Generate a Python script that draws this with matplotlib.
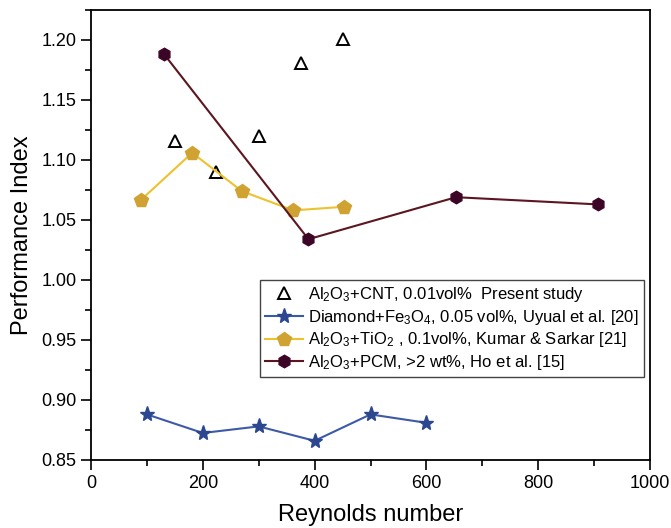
import matplotlib
matplotlib.use('Agg')
import matplotlib.pyplot as plt
from matplotlib.ticker import MultipleLocator

plt.rcParams['font.family'] = ['Liberation Sans', 'DejaVu Sans']
plt.rcParams['mathtext.fontset'] = 'custom'
plt.rcParams['mathtext.rm'] = 'Liberation Sans'
plt.rcParams['mathtext.default'] = 'regular'

# Al2O3+CNT (present study)
re_cnt = [150, 224, 300, 376, 450]
pi_cnt = [1.116, 1.090, 1.120, 1.181, 1.201]

# Diamond+Fe3O4
re_dia = [100, 200, 300, 400, 500, 600]
pi_dia = [0.888, 0.8725, 0.878, 0.866, 0.888, 0.881]

# Al2O3+TiO2
re_tio = [90, 181, 270, 362, 452]
pi_tio = [1.067, 1.106, 1.074, 1.058, 1.061]

# Al2O3+PCM
re_pcm = [131, 389, 653, 907]
pi_pcm = [1.188, 1.034, 1.069, 1.063]

fig = plt.figure(figsize=(6.71, 5.28), dpi=100)
ax = fig.add_axes([91/671, 1-460/528, (650-91)/671, 450/528])

ax.plot(re_cnt, pi_cnt, linestyle='none', marker='^', markersize=9,
        markerfacecolor='white', markeredgecolor='black', markeredgewidth=1.4,
        label='Al$_2$O$_3$+CNT, 0.01vol%  Present study')
ax.plot(re_dia, pi_dia, color='#3c5aa6', lw=1.5, marker='*', markersize=11,
        markerfacecolor='#2c4690', markeredgecolor='#2c4690',
        label='Diamond+Fe$_3$O$_4$, 0.05 vol%, Uyual et al. [20]')
ax.plot(re_tio, pi_tio, color='#eec22e', lw=1.5, marker='p', markersize=10,
        markerfacecolor='#d0a232', markeredgecolor='#d0a232',
        label='Al$_2$O$_3$+TiO$_2$ , 0.1vol%, Kumar & Sarkar [21]')
ax.plot(re_pcm, pi_pcm, color='#5c1620', lw=1.5, marker='h', markersize=9,
        markerfacecolor='#3c0526', markeredgecolor='#3c0526',
        label='Al$_2$O$_3$+PCM, >2 wt%, Ho et al. [15]')

ax.set_xlim(0, 1000)
ax.set_ylim(0.85, 1.225)
ax.xaxis.set_major_locator(MultipleLocator(200))
ax.xaxis.set_minor_locator(MultipleLocator(100))
ax.yaxis.set_major_locator(MultipleLocator(0.05))
ax.yaxis.set_minor_locator(MultipleLocator(0.025))
ax.yaxis.set_major_formatter(matplotlib.ticker.FormatStrFormatter('%.2f'))
ax.tick_params(which='major', direction='out', length=7, width=1.2, labelsize=13)
ax.tick_params(which='minor', direction='out', length=4, width=1.2)
for s in ax.spines.values():
    s.set_linewidth(1.3)

ax.set_xlabel('Reynolds number', fontsize=17, labelpad=9)
ax.set_ylabel('Performance Index', fontsize=17, labelpad=6)

leg = ax.legend(loc='upper left', bbox_to_anchor=(260/671, 1-280/528),
                bbox_transform=fig.transFigure, borderaxespad=0,
                fontsize=12, fancybox=False, framealpha=1, edgecolor='#444444',
                handlelength=2.3, handletextpad=0.3, borderpad=0.3,
                labelspacing=0.22)
leg.get_frame().set_linewidth(1.0)

fig.savefig('out.png', dpi=100)
